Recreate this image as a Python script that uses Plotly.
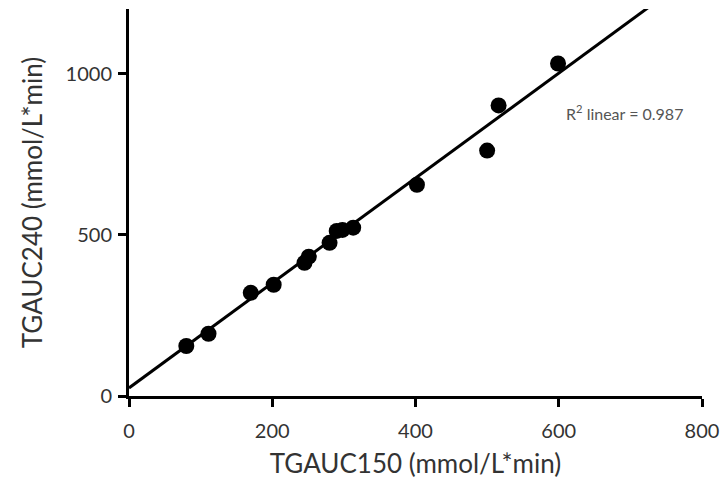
import plotly.graph_objects as go

# Data
tg150 = [80, 111, 170, 202, 245, 251, 280, 290, 298, 313, 402, 500, 516, 599]
tg240 = [155, 193, 320, 345, 413, 432, 475, 512, 515, 522, 655, 761, 901, 1031]

# Fitted line as drawn (intercept, slope) and its x extent
fit_intercept = 25
fit_slope = 1.627
fit_x = [0, 727]
fit_y = [fit_intercept + fit_slope * v for v in fit_x]

x_ticks = [0, 200, 400, 600, 800]
y_ticks = [0, 500, 1000]
r2_label = "R<sup>2</sup> linear = 0.987"

FONT = "Lato"

fig = go.Figure()
fig.add_trace(go.Scatter(x=fit_x, y=fit_y, mode="lines",
                         line=dict(color="black", width=3), showlegend=False,
                         hoverinfo="skip"))
fig.add_trace(go.Scatter(x=tg150, y=tg240, mode="markers",
                         marker=dict(color="black", size=16), showlegend=False))

fig.add_annotation(x=607, y=879, xref="x", yref="y", text=r2_label,
                   showarrow=False, xanchor="left", yanchor="middle",
                   font=dict(family=FONT, size=16, color="#555555"))

axis_common = dict(showline=True, linecolor="black", linewidth=3,
                   ticks="outside", ticklen=8, tickwidth=3, tickcolor="black",
                   showgrid=False, zeroline=False,
                   tickfont=dict(family=FONT, size=20, color="#333333"))

fig.update_xaxes(range=[0, 800], tickvals=x_ticks, ticklabelstandoff=7,
                 title=dict(text="TGAUC150 (mmol/L*min)",
                            font=dict(family=FONT, size=26, color="#333333"),
                            standoff=14),
                 **axis_common)
fig.update_yaxes(range=[0, 1200], tickvals=y_ticks, ticklabelstandoff=2,
                 title=dict(text="TGAUC240 (mmol/L*min)",
                            font=dict(family=FONT, size=26, color="#333333"),
                            standoff=16),
                 **axis_common)

fig.update_layout(width=728, height=495,
                  margin=dict(l=129, r=23, t=9, b=99),
                  plot_bgcolor="white", paper_bgcolor="white")

fig.write_html("out.html")
